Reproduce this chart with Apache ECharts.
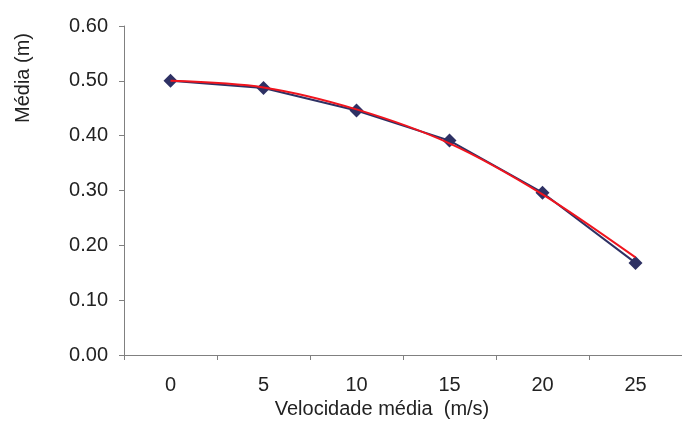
<!DOCTYPE html>
<html>
<head>
<meta charset="utf-8">
<script src="https://cdn.jsdelivr.net/npm/echarts@6/dist/echarts.min.js"></script>
<style>html,body{margin:0;padding:0;background:#fff}#c{width:682px;height:423px}</style>
</head>
<body>
<div id="c"></div>
<script>
const categories = ['0', '5', '10', '15', '20', '25'];
const mediaValues = [0.500, 0.487, 0.446, 0.391, 0.296, 0.168];
const trendValues = [0.500, 0.488, 0.448, 0.386, 0.293, 0.178];
const yTicks = { min: 0, max: 0.6, interval: 0.1 };
const yTitle = 'Média (m)';
const xTitle = 'Velocidade média  (m/s)';

const chart = echarts.init(document.getElementById('c'), null, { renderer: 'canvas' });
const font = 'Liberation Sans, Arial, sans-serif';
chart.setOption({
  animation: false,
  backgroundColor: '#fff',
  grid: { left: 124, top: 26, width: 570, height: 329, containLabel: false },
  xAxis: {
    type: 'category',
    data: categories,
    boundaryGap: true,
    axisLine: { lineStyle: { color: '#808080', width: 1 } },
    axisTick: { show: true, length: 5, lineStyle: { color: '#808080' } },
    axisLabel: { color: '#222', fontFamily: font, fontSize: 20, margin: 20 },
    splitLine: { show: false }
  },
  yAxis: {
    type: 'value',
    min: yTicks.min, max: yTicks.max, interval: yTicks.interval,
    axisLine: { show: true, lineStyle: { color: '#808080', width: 1 } },
    axisTick: { show: true, length: 5, lineStyle: { color: '#808080' } },
    axisLabel: { color: '#222', fontFamily: font, fontSize: 20, margin: 16,
      formatter: v => v.toFixed(2) },
    splitLine: { show: false }
  },
  graphic: [
    { type: 'text', x: 23, y: 78, rotation: Math.PI / 2,
      style: { text: yTitle, fill: '#222', font: '20px ' + font, align: 'center', verticalAlign: 'middle' } },
    { type: 'text', x: 382, y: 409,
      style: { text: xTitle, fill: '#222', font: '20px ' + font, align: 'center', verticalAlign: 'middle' } }
  ],
  series: [
    {
      type: 'line', data: mediaValues, symbol: 'diamond', symbolSize: 14,
      lineStyle: { color: '#2E3164', width: 2 },
      itemStyle: { color: '#2E3164' }, z: 2
    },
    {
      type: 'line', data: trendValues, smooth: 0.3, showSymbol: false, symbol: 'none',
      lineStyle: { color: '#F0141E', width: 2 }, z: 3
    }
  ]
});
</script>
</body>
</html>
